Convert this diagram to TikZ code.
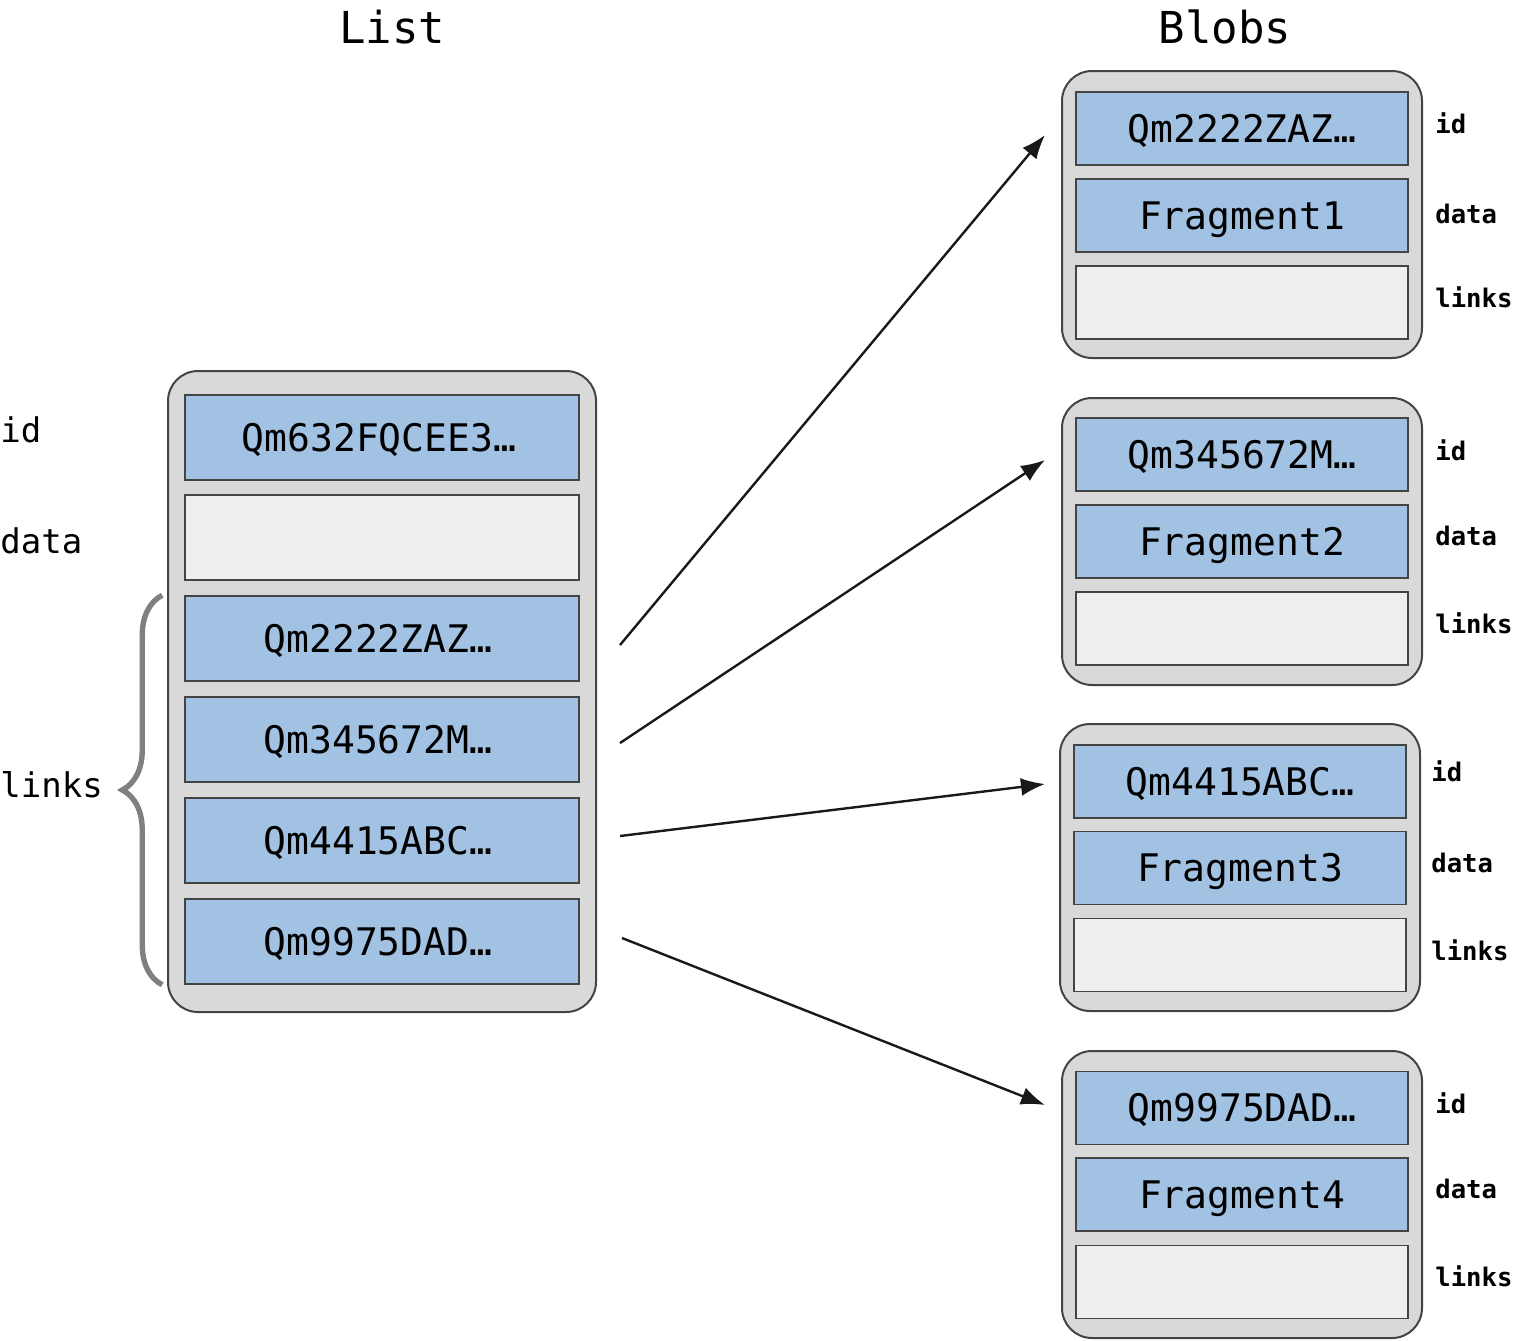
\documentclass[tikz,border=0pt]{standalone}
\usepackage{fontspec}
\setmonofont{DejaVu Sans Mono}
\usetikzlibrary{arrows.meta,decorations.pathreplacing}
\definecolor{CellBlue}{HTML}{A2C2E4}
\definecolor{CellEmpty}{HTML}{EFEFEF}
\definecolor{FrameGray}{HTML}{D9D9D9}
\definecolor{Edge}{HTML}{444444}
\definecolor{BraceGray}{HTML}{808080}

\begin{document}
\begin{tikzpicture}[x=0.5pt,y=-0.5pt,
  heading/.style={font=\ttfamily\fontsize{22}{26}\selectfont},
  objframe/.style={draw=Edge,fill=FrameGray,line width=1pt,rounded corners=15pt,inner sep=0pt},
  listcell/.style={draw=Edge,fill=CellBlue,line width=0.75pt,inner sep=0pt,minimum width=197pt,minimum height=42.5pt,
    text height=13.9pt,text depth=0pt,font=\ttfamily\fontsize{19}{23}\selectfont},
  blobcell/.style={listcell,minimum width=166pt,minimum height=36.5pt},
  sidelabel/.style={anchor=west,inner sep=0pt,text height=9.7pt,text depth=0pt,font=\ttfamily\bfseries\fontsize{12.8}{15}\selectfont},
  fieldlabel/.style={anchor=west,inner sep=0pt,text height=12.9pt,text depth=0pt,font=\ttfamily\fontsize{17}{20}\selectfont},
  link/.style={-{Latex[length=12pt,width=9pt]},line width=1.2pt,black!90}]
\useasboundingbox (0,0) rectangle (1514,1340);

% titles
\node[heading] (ttllist) at (392,27) {List};
\node[heading] (ttlblobs) at (1225,27) {Blobs};

% list object
\node[objframe,minimum width=214pt,minimum height=320.5pt] (list) at (382,691.5) {};
\node[listcell] (l1) at (382,437.5) {\hspace*{-3pt}Qm632FQCEE3…};
\node[listcell,fill=CellEmpty] (l2) at (382,537.5) {};
\node[listcell] (l3) at (382,638.5) {\hspace*{-4pt}Qm2222ZAZ…};
\node[listcell] (l4) at (382,739.5) {\hspace*{-4pt}Qm345672M…};
\node[listcell] (l5) at (382,840.5) {\hspace*{-4pt}Qm4415ABC…};
\node[listcell] (l6) at (382,941.5) {\hspace*{-4pt}Qm9975DAD…};
\node[fieldlabel] (lid) at (0,430) {id};
\node[fieldlabel] (ldata) at (0,541) {data};
\node[fieldlabel] (llinks) at (0,785) {links};
\draw[BraceGray,line width=2.7pt,decorate,decoration={brace,amplitude=20pt}]
  ([xshift=-11pt]l6.south west) -- ([xshift=-11pt]l3.north west);

% blob 1
\node[objframe,minimum width=180pt,minimum height=143.5pt] (blob1) at (1242,214.5) {};
\node[blobcell] (b1id) at (1242,128.5) {Qm2222ZAZ…};
\node[blobcell] (b1data) at (1242,215.5) {Fragment1};
\node[blobcell,fill=CellEmpty] (b1links) at (1242,302.5) {};
\node[sidelabel] (b1idl) at (1435,124) {id};
\node[sidelabel] (b1datal) at (1435,214) {data};
\node[sidelabel] (b1linksl) at (1435,298) {links};

% blob 2
\node[objframe,minimum width=180pt,minimum height=143.5pt] (blob2) at (1242,541.5) {};
\node[blobcell] (b2id) at (1242,454.5) {Qm345672M…};
\node[blobcell] (b2data) at (1242,541.5) {Fragment2};
\node[blobcell,fill=CellEmpty] (b2links) at (1242,628.5) {};
\node[sidelabel] (b2idl) at (1435,451) {id};
\node[sidelabel] (b2datal) at (1435,536) {data};
\node[sidelabel] (b2linksl) at (1435,624) {links};

% blob 3
\node[objframe,minimum width=180pt,minimum height=143.5pt] (blob3) at (1240,867.5) {};
\node[blobcell] (b3id) at (1240,781.5) {Qm4415ABC…};
\node[blobcell] (b3data) at (1240,868) {Fragment3};
\node[blobcell,fill=CellEmpty] (b3links) at (1240,955) {};
\node[sidelabel] (b3idl) at (1431,772) {id};
\node[sidelabel] (b3datal) at (1431,863) {data};
\node[sidelabel] (b3linksl) at (1431,951) {links};

% blob 4
\node[objframe,minimum width=180pt,minimum height=143.5pt] (blob4) at (1242,1194.5) {};
\node[blobcell] (b4id) at (1242,1108) {Qm9975DAD…};
\node[blobcell] (b4data) at (1242,1194.5) {Fragment4};
\node[blobcell,fill=CellEmpty] (b4links) at (1242,1282) {};
\node[sidelabel] (b4idl) at (1435,1104) {id};
\node[sidelabel] (b4datal) at (1435,1189) {data};
\node[sidelabel] (b4linksl) at (1435,1277) {links};

% links
\coordinate (from1) at (620,645);
\coordinate (from2) at (620,743);
\coordinate (from3) at (620,836);
\coordinate (from4) at (622,938);
\coordinate (to1) at (1045,135);
\coordinate (to2) at (1045,460);
\coordinate (to3) at (1045,784);
\coordinate (to4) at (1045,1105);
\draw[link] (from1) -- (to1);
\draw[link] (from2) -- (to2);
\draw[link] (from3) -- (to3);
\draw[link] (from4) -- (to4);
\end{tikzpicture}
\end{document}
